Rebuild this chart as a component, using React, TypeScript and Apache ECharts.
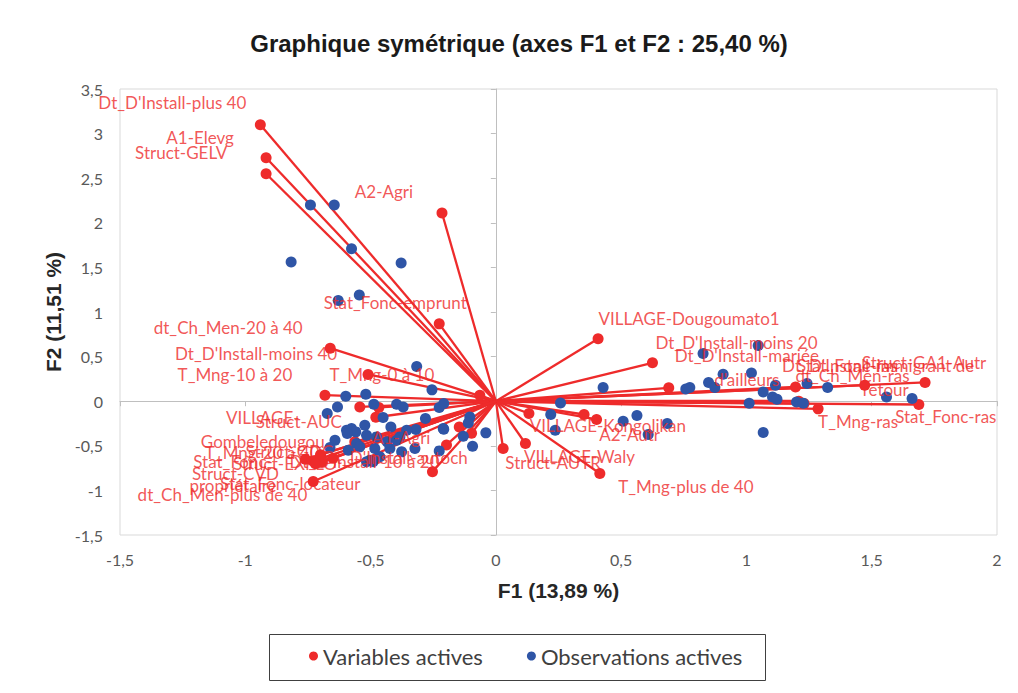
import React, { useEffect, useRef } from "react";
import * as echarts from "echarts";

// ---- Data ----
const varNames = [
  "Dt_D'Install-plus 40", "A1-Elevg", "Struct-GELV", "A2-Agri", "Stat_Fonc-emprunt",
  "dt_Ch_Men-20 à 40", "Dt_D'Install-moins 40", "T_Mng-10 à 20", "T_Mng-0 à 10",
  "VILLAGE-Dougoumato1", "Dt_D'Install-moins 20", "Dt_D'Install-mariée\nd'ailleurs",
  "dt_Ch_Men-ras", "Stat_Fonc-immigrant de\nretour", "Struct-GA1-Autr", "Dt_D'Install-ras",
  "", "T_Mng-ras", "Stat_Fonc-ras", "VILLAGE-Kongolikan", "", "A2-Autr", "VILLAGE-Waly",
  "Struct-AUTR", "T_Mng-plus de 40", "", "", "Struct-AUC", "A1-Agri", "",
  "Dt_D'Install-10 à 20", "Dt_D'Install-autoch", "Stat_Fonc-locateur",
  "VILLAGE-\nGombeledougou", "T_Mng-20 à 40", "Stat_Fonc-\npropriétaire", "Struct-EXPLO",
  "Struct-CVD", "Struct-GDC", "dt_Ch_Men-plus de 40",
];
const varF1 = [
  -0.94, -0.917, -0.917, -0.215, -0.226,
  -0.661, -0.51, -0.682, -0.064,
  0.408, 0.625, 0.69,
  1.196, 1.472, 1.713, 1.209,
  1.23, 1.286, 1.688, 0.132, 0.352, 0.402, 0.118,
  0.029, 0.415, -0.543, -0.467, -0.479, -0.146, -0.097,
  -0.197, -0.253, -0.729,
  -0.563, -0.729, -0.694, -0.65,
  -0.76, -0.7, -0.72,
];
const varF2 = [
  3.1, 2.73, 2.55, 2.11, 0.867,
  0.594, 0.3, 0.067, 0.067,
  0.7, 0.43, 0.15,
  0.16, 0.18, 0.21, 0.0,
  -0.026, -0.086, -0.037, -0.138, -0.149, -0.205, -0.474,
  -0.53, -0.81, -0.064, -0.07, -0.18, -0.29, -0.36,
  -0.49, -0.79, -0.9,
  -0.456, -0.67, -0.68, -0.64,
  -0.65, -0.6, -0.7,
];

const obsF1 = [
  -0.74, -0.645, -0.576, -0.817, -0.378, -0.629, -0.545, -0.316, -0.255,
  -0.673, -0.632, -0.599, -0.519, -0.642, -0.662, -0.596, -0.576, -0.523, -0.556, -0.483,
  -0.45, -0.419, -0.396, -0.37, -0.281, -0.226, -0.208, -0.21, -0.104, -0.093, -0.04,
  -0.13, -0.516, -0.49, -0.226, -0.319, -0.356, -0.516, -0.476, -0.383, -0.423, -0.376,
  -0.543, -0.487, -0.11, -0.589, -0.434, -0.396, -0.323, -0.503, -0.463, -0.559, -0.593,
  -0.208,
  0.428, 0.258, 0.219, 0.237, 0.508, 0.563, 0.684, 0.608, 0.758, 0.774, 0.827, 0.849,
  0.874, 0.907, 1.02, 1.047, 1.011, 1.067, 1.067, 1.104, 1.122, 1.116, 1.2, 1.227, 1.242,
  1.324, 1.559, 1.661,
];
const obsF2 = [
  2.2, 2.2, 1.71, 1.56, 1.55, 1.13, 1.19, 0.39, 0.127,
  -0.138, -0.064, 0.056, 0.078, -0.437, -0.519, -0.325, -0.306, -0.269, -0.474, -0.53,
  -0.183, -0.288, -0.034, -0.064, -0.194, -0.071, -0.026, -0.306, -0.176, -0.504, -0.355,
  -0.392, -0.68, -0.68, -0.557, -0.317, -0.325, -0.381, -0.4, -0.4, -0.53, -0.568,
  -0.512, -0.034, -0.243, -0.549, -0.456, -0.437, -0.53, -0.661, -0.624, -0.344, -0.362,
  -0.314,
  0.153, -0.02, -0.149, -0.325, -0.224, -0.161, -0.25, -0.374, 0.138, 0.153, 0.535, 0.21,
  0.153, 0.303, 0.317, 0.624, -0.022, 0.104, -0.351, 0.048, 0.022, 0.179, -0.008, -0.022, 0.198,
  0.153, 0.048, 0.03,
];

const titleText = "Graphique symétrique (axes F1 et F2 : 25,40 %)";
const xTitle = "F1 (13,89 %)";
const yTitle = "F2 (11,51 %)";
const seriesVar = "Variables actives";
const seriesObs = "Observations actives";

// ---- Layout: label offsets (pixels) for the variable labels ----
const labelOffsets: [number, number][] = [
  [-88, -22], [-66, -20], [-85, -21], [-58, -21], [-44, -21],
  [-102, -21], [-112, -21], [-90, -21], [-98, -21],
  [91, -20], [84, -20], [78, -20],
  [57, -11], [21, -8], [-1, -20], [41, -36],
  [0, 0], [40, 13], [27, 12], [79, 12], [0, 0], [33, 15], [54, 13],
  [50, 14], [86, 13], [0, 0], [0, 0], [-77, 4], [-58, 10], [0, 0],
  [-82, 17], [-37, -14], [-23, 2],
  [-92, -12], [-51, -8], [-89, 12], [-48, 5],
  [-70, 14], [-31, -3], [-93, 31],
];

const RED = "#ee2b2b";
const BLUE = "#2f55a6";
const fmt = (v: number) => String(v).replace(".", ",");

export default function App() {
  const ref = useRef<HTMLDivElement>(null);
  useEffect(() => {
    if (!ref.current) return;
    const chart = echarts.init(ref.current, null, { renderer: "svg" });
    const tickLabel = { formatter: fmt, color: "#595959", fontFamily: "Lato", fontSize: 16 };
    const axisName = { fontFamily: "Liberation Sans", fontWeight: "bold" as const, fontSize: 21, color: "#262626" };
    const zeroLine = { show: true, onZero: true, onZeroAxisIndex: 0, lineStyle: { color: "#bfbfbf", width: 1 } };
    chart.setOption({
      animation: false,
      backgroundColor: "#ffffff",
      title: {
        text: titleText,
        left: 519,
        top: 31,
        padding: 0,
        textAlign: "center",
        textStyle: { fontFamily: "Liberation Sans", fontWeight: "bold", fontSize: 24, color: "#1a1a1a" },
      },
      legend: {
        data: [seriesVar, seriesObs],
        left: 309,
        top: 645,
        icon: "circle",
        itemWidth: 9,
        itemHeight: 9,
        itemGap: 44,
        padding: 0,
        textStyle: { fontFamily: "Lato", fontSize: 22, color: "#404040" },
      },
      graphic: [
        {
          type: "rect",
          shape: { x: 269.5, y: 634.5, width: 496, height: 46 },
          style: { fill: "none", stroke: "#404040", lineWidth: 1 },
          silent: true,
        },
      ],
      grid: {
        left: 120, right: 21, top: 89, bottom: 158,
        show: true, borderColor: "#d9d9d9", borderWidth: 1, backgroundColor: "transparent",
      },
      xAxis: [
        {
          type: "value", min: -1.5, max: 2, interval: 0.5, position: "bottom",
          axisLine: { show: false, onZero: false }, axisTick: { show: false }, splitLine: { show: false },
          axisLabel: { ...tickLabel, margin: 16 },
          name: xTitle, nameLocation: "middle", nameGap: 45, nameTextStyle: axisName,
        },
        {
          type: "value", min: -1.5, max: 2, interval: 0.5, position: "bottom",
          axisLine: zeroLine,
          axisTick: { show: true, length: 5, lineStyle: { color: "#bfbfbf" } },
          axisLabel: { show: false }, splitLine: { show: false },
        },
      ],
      yAxis: [
        {
          type: "value", min: -1.5, max: 3.5, interval: 0.5, position: "left",
          axisLine: { show: false, onZero: false }, axisTick: { show: false }, splitLine: { show: false },
          axisLabel: { ...tickLabel, margin: 17 },
          name: yTitle, nameLocation: "middle", nameGap: 52, nameTextStyle: axisName,
        },
        {
          type: "value", min: -1.5, max: 3.5, interval: 0.5, position: "left",
          axisLine: zeroLine,
          axisTick: { show: true, length: 5, lineStyle: { color: "#bfbfbf" } },
          axisLabel: { show: false }, splitLine: { show: false },
        },
      ],
      series: [
        {
          type: "lines",
          coordinateSystem: "cartesian2d",
          xAxisIndex: 0, yAxisIndex: 0,
          silent: true,
          z: 2,
          lineStyle: { color: RED, width: 2.3, opacity: 1 },
          data: varF1.map((x, i) => ({ coords: [[0, 0], [x, varF2[i]]] })),
        },
        {
          name: seriesVar,
          type: "scatter",
          z: 3,
          symbol: "circle",
          symbolSize: 11,
          itemStyle: { color: RED, opacity: 1 },
          data: varF1.map((x, i) => [x, varF2[i]]),
        },
        {
          name: seriesObs,
          type: "scatter",
          z: 4,
          symbol: "circle",
          symbolSize: 11,
          itemStyle: { color: BLUE, opacity: 1 },
          data: obsF1.map((x, i) => [x, obsF2[i]]),
        },
        {
          name: "labels",
          type: "scatter",
          z: 5,
          silent: true,
          symbolSize: 1,
          itemStyle: { color: "transparent" },
          label: {
            show: true,
            position: "inside",
            formatter: "{b}",
            color: RED,
            fontFamily: "Lato",
            fontSize: 17,
            lineHeight: 24,
            align: "center",
            verticalAlign: "middle",
          },
          data: varF1.map((x, i) => ({
            name: varNames[i],
            value: [x, varF2[i]],
            label: { offset: labelOffsets[i] },
          })),
        },
      ],
    });
    return () => chart.dispose();
  }, []);
  return (
    <div
      ref={ref}
      style={{ position: "absolute", left: 0, top: 0, width: 1018, height: 693, background: "#fff" }}
    />
  );
}
